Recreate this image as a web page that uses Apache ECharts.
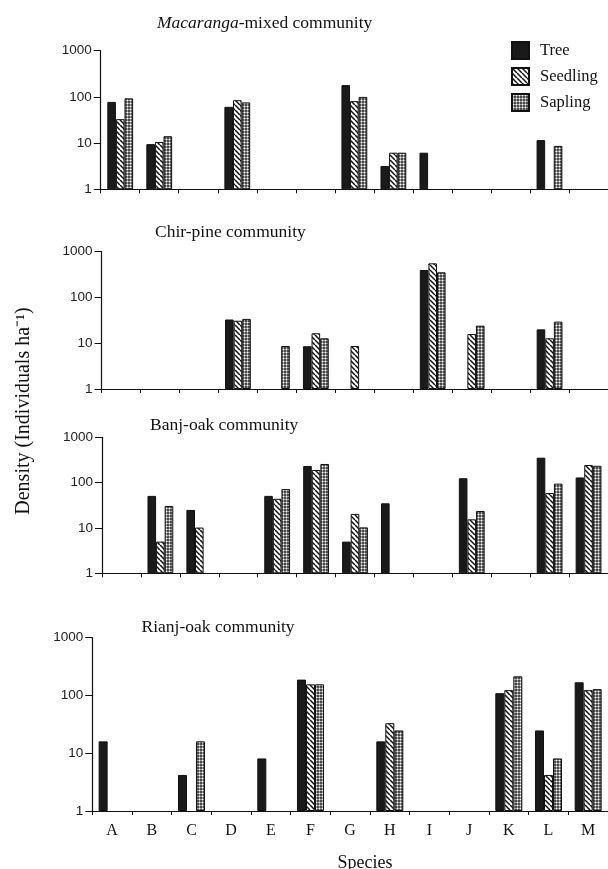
<!DOCTYPE html>
<html>
<head>
<meta charset="utf-8">
<script src="https://cdn.jsdelivr.net/npm/echarts@6/dist/echarts.min.js"></script>
<style>
html,body{margin:0;padding:0;background:#fff;}
#chart{width:608px;height:869px;}
</style>
</head>
<body>
<div id="chart"></div>
<script>
// ---------- data ----------
const categories = ['A','B','C','D','E','F','G','H','I','J','K','L','M'];
const seriesNames = ['Tree','Seedling','Sapling'];
const yTicks = [1, 10, 100, 1000];

// Macaranga-mixed community
const macTree     = [78, 9.5, null, 61, null, null, 180, 3.2, 6.2, null, null, 11.6, null];
const macSeedling = [33, 10.6, null, 85, null, null, 81, 6.2, null, null, null, null, null];
const macSapling  = [93, 14.1, null, 76, null, null, 100, 6.2, null, null, null, 8.7, null];

// Chir-pine community
const chirTree     = [null, null, null, 33, null, 8.6, null, null, 398, null, null, 20.1, null];
const chirSeedling = [null, null, null, 31, null, 16.5, 8.7, null, 557, 15.9, null, 12.8, null];
const chirSapling  = [null, null, null, 34, 8.7, 12.8, null, null, 354, 24.2, null, 29.6, null];

// Banj-oak community
const banjTree     = [null, 51, 25, null, 51, 233, 5.0, 35, null, 125, null, 355, 130];
const banjSeedling = [null, 5.0, 10.2, null, 44, 190, 20.4, null, null, 15.5, null, 59, 245];
const banjSapling  = [null, 30.6, null, null, 72, 258, 10.3, null, null, 23.7, null, 95, 235];

// Rianj-oak community
const rianjTree     = [16, null, 4.2, null, 8.1, 187, null, 16, null, null, 109, 24.7, 168];
const rianjSeedling = [null, null, null, null, null, 155, null, 33, null, null, 123, 4.2, 123];
const rianjSapling  = [null, null, 16, null, null, 155, null, 24.7, null, null, 213, 8.1, 128];

const panelTitles = ['{i|Macaranga}-mixed community', 'Chir-pine community', 'Banj-oak community', 'Rianj-oak community'];
const panelData = [
  [macTree, macSeedling, macSapling],
  [chirTree, chirSeedling, chirSapling],
  [banjTree, banjSeedling, banjSapling],
  [rianjTree, rianjSeedling, rianjSapling]
];

// ---------- patterns ----------
function hatchPattern(){
  const c = document.createElement('canvas');
  const s = 5;
  c.width = s; c.height = s;
  const g = c.getContext('2d');
  g.fillStyle = '#ffffff'; g.fillRect(0,0,s,s);
  g.strokeStyle = '#111'; g.lineWidth = 1.5;
  for (let k=-1;k<=1;k++){
    g.beginPath(); g.moveTo(k*s, 0); g.lineTo(k*s+s, s); g.stroke();
  }
  return c;
}
function dotPattern(){
  const c = document.createElement('canvas');
  c.width = 3; c.height = 3;
  const g = c.getContext('2d');
  const px = [
    ['#4a4a4a','#a0a0a0','#4a4a4a'],
    ['#a0a0a0','#fafafa','#a0a0a0'],
    ['#4a4a4a','#a0a0a0','#4a4a4a']
  ];
  for (let y=0;y<3;y++) for (let x=0;x<3;x++){ g.fillStyle = px[y][x]; g.fillRect(x,y,1,1); }
  return c;
}
const fills = [
  '#1a1a1a',
  {image: hatchPattern(), repeat: 'repeat'},
  {image: dotPattern(), repeat: 'repeat'}
];

// ---------- layout ----------
const grids = [
  {left: 100.7, top: 50.7,  height: 138.6, width: 513.3},
  {left: 101.6, top: 251.7, height: 137.3, width: 515.7},
  {left: 102,   top: 437.3, height: 136,   width: 516},
  {left: 92.3,  top: 637.5, height: 173.5, width: 517.5}
];
const titlePos = [
  {left: 157, top: 14},
  {left: 155, top: 223},
  {left: 150, top: 416},
  {left: 141.5, top: 618}
];
const barWidths = [8.6, 8.6, 8.6, 9];

const serif = '"Liberation Serif", "Times New Roman", serif';
const sans = '"Liberation Sans", Arial, sans-serif';

const xAxes = [], yAxes = [], series = [], titles = [];
grids.forEach((g, p) => {
  xAxes.push({
    type: 'category', gridIndex: p, data: categories,
    axisLine: {show: true, lineStyle: {color: '#111', width: 1.2}},
    axisTick: {show: true, length: 4, lineStyle: {color: '#111', width: 1}},
    axisLabel: {show: p === 3, fontFamily: serif, fontSize: 16, color: '#111', margin: 12},
    splitLine: {show: false}
  });
  yAxes.push({
    type: 'log', logBase: 10, gridIndex: p, min: yTicks[0], max: yTicks[yTicks.length-1],
    axisLine: {show: true, lineStyle: {color: '#111', width: 1.2}},
    axisTick: {show: true, length: 7, lineStyle: {color: '#111', width: 1}},
    axisLabel: {fontFamily: sans, fontSize: 13.5, color: '#222', margin: 9,
      formatter: v => String(Math.round(v))},
    splitLine: {show: false}
  });
  seriesNames.forEach((name, s) => {
    series.push({
      name: name, type: 'bar', xAxisIndex: p, yAxisIndex: p,
      data: panelData[p][s],
      barWidth: barWidths[p], barGap: '0%',
      itemStyle: {color: fills[s], borderColor: '#111', borderWidth: 1},
      emphasis: {disabled: true},
      animation: false
    });
  });
  titles.push({
    text: panelTitles[p], left: titlePos[p].left, top: titlePos[p].top, padding: 0,
    textStyle: {fontFamily: serif, fontSize: 17.5, fontWeight: 'normal', color: '#111',
      rich: {i: {fontFamily: serif, fontSize: 17.5, fontStyle: 'italic', color: '#111'}}}
  });
});

const chart = echarts.init(document.getElementById('chart'), null, {renderer: 'canvas'});
chart.setOption({
  backgroundColor: '#fff',
  animation: false,
  title: titles,
  legend: {
    data: seriesNames, orient: 'vertical', left: 511, top: 41, padding: 0,
    itemWidth: 17, itemHeight: 17, itemGap: 7, icon: 'rect',
    selectedMode: false,
    textStyle: {fontFamily: serif, fontSize: 16.5, color: '#111', padding: [0,0,0,6]}
  },
  grid: grids,
  xAxis: xAxes,
  yAxis: yAxes,
  series: series,
  graphic: [
    {type: 'text', x: 24, y: 411, rotation: Math.PI/2,
     style: {text: 'Density (Individuals ha⁻¹)', font: '20px ' + serif, fill: '#111', align: 'center', verticalAlign: 'middle'}},
    {type: 'text', x: 365, y: 863,
     style: {text: 'Species', font: '18px ' + serif, fill: '#111', align: 'center', verticalAlign: 'middle'}}
  ]
});
</script>
</body>
</html>
